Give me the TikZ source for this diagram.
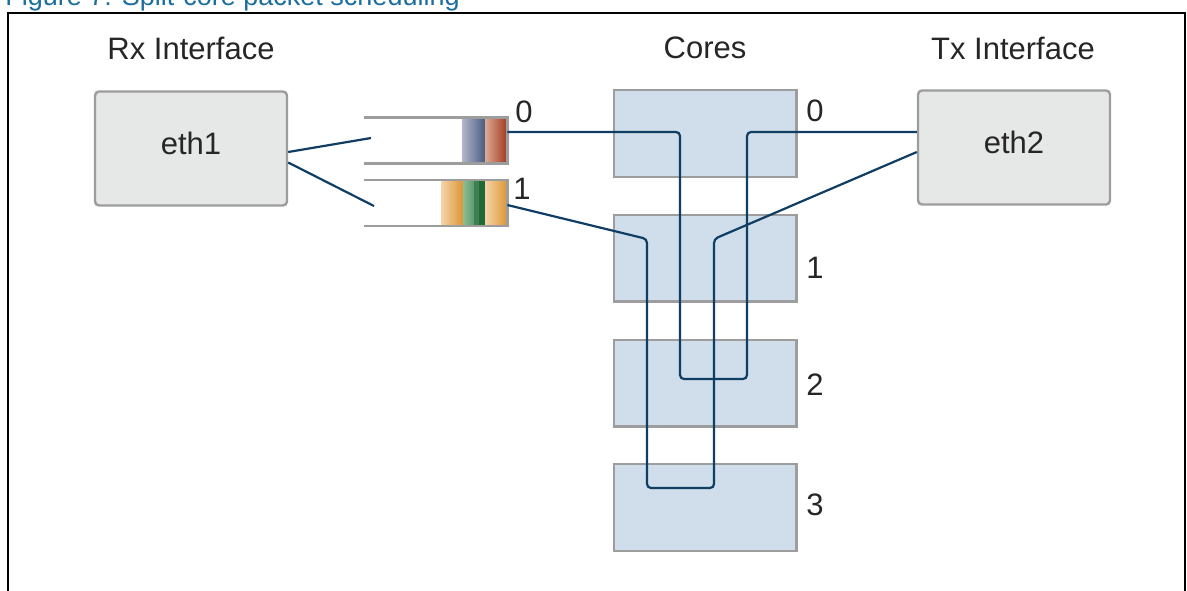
\documentclass[tikz,border=0pt]{standalone}
\usepackage{fontspec}
\setmainfont{Liberation Sans}
\usetikzlibrary{calc}

\definecolor{wireblue}{HTML}{0F3D64}
\definecolor{coreblue}{HTML}{CFDEEA}
\definecolor{ifgray}{HTML}{E6E7E7}
\definecolor{edgegray}{HTML}{9D9D9D}
\definecolor{capblue}{HTML}{1B6E9E}
% packet colours
\definecolor{pktblueA}{HTML}{B3B7C8}
\definecolor{pktblueB}{HTML}{4A5C82}
\definecolor{pktredA}{HTML}{DDAB95}
\definecolor{pktredB}{HTML}{A23A20}
\definecolor{pktorgA}{HTML}{F6D4A8}
\definecolor{pktorgB}{HTML}{DC9635}
\definecolor{pktgrnA}{HTML}{8EBC96}
\definecolor{pktgrnB}{HTML}{5E9A6C}
\definecolor{pktgrnC}{HTML}{3F8050}
\definecolor{pktgrnD}{HTML}{1F6A38}

\begin{document}
\begin{tikzpicture}[x=0.5pt, y=-0.5pt,
    % Define the styles for boxes, labels and wires
    iface/.style={draw=edgegray, line width=1.2pt, fill=ifgray, rounded corners=2pt,
        minimum width=96pt, minimum height=57pt, inner sep=0pt, text depth=5.5pt,
        text=black!85, font=\fontsize{15.5}{18}\selectfont},
    core/.style={draw=edgegray, line width=1.2pt, fill=coreblue,
        minimum width=91.3pt, minimum height=43.3pt, inner sep=0pt},
    queue/.style={minimum width=71.5pt, minimum height=22.5pt, inner sep=0pt},
    qline/.style={draw=edgegray, line width=1.3pt},
    lbl/.style={inner sep=0pt, text=black!85, font=\fontsize{15.5}{18}\selectfont},
    wire/.style={draw=wireblue, line width=1.1pt, rounded corners=2pt}
]
\useasboundingbox (0,0) rectangle (1187,590);
\clip (0,0) rectangle (1187,590);

% Caption and frame
\node[anchor=base west, inner sep=0pt, text=capblue, font=\fontsize{13.5}{16}\selectfont]
    (caption) at (5,5) {Figure 7: Split-core packet scheduling};
\draw[line width=1pt] (7.5,620) -- (7.5,12.5) -- (1185,12.5) -- (1185,620);

% Column headings
\node[lbl] (rxlbl) at (191,48) {Rx Interface};
\node[lbl] (corelbl) at (705,48) {Cores};
\node[lbl] (txlbl) at (1013,48) {Tx Interface};

% Interfaces
\node[iface] (eth1) at (191,148.5) {eth1};
\node[iface] (eth2) at (1014,147.5) {eth2};

% Cores
\node[core] (c0) at (705,133.5) {};
\node[core] (c1) at (705,258) {};
\node[core] (c2) at (705,383) {};
\node[core] (c3) at (705,507.5) {};
\node[lbl] (c0lbl) at (815,111) {0};
\node[lbl] (c1lbl) at (815,268) {1};
\node[lbl] (c2lbl) at (815,385) {2};
\node[lbl] (c3lbl) at (815,505) {3};

% Receive queues
\node[queue] (q0) at (435.5,140.5) {};
\node[queue] (q1) at (435.5,203) {};

% Packets in queue 0
\shade[left color=pktblueA, right color=pktblueB] (462,119) rectangle (485,162);
\shade[left color=pktredA, right color=pktredB] (485,119) rectangle (507,162);

% Packets in queue 1
\shade[left color=pktorgA, right color=pktorgB] (441,181) rectangle (463,225);
\shade[left color=pktgrnA, right color=pktgrnB] (463,181) rectangle (474,225);
\fill[pktgrnC] (474,181) rectangle (479,225);
\fill[pktgrnD] (479,181) rectangle (485,225);
\shade[left color=pktorgA, right color=pktorgB] (485,181) rectangle (507,225);

\draw[qline] (q0.north west) -- (q0.north east) -- (q0.south east) -- (q0.south west);
\draw[qline] (q1.north west) -- (q1.north east) -- (q1.south east) -- (q1.south west);
\node[lbl] (q0lbl) at (524,112) {0};
\node[lbl] (q1lbl) at (522,189) {1};

% Bend points of the wires
\coordinate (in0) at (371,138);
\coordinate (in1) at (374,206);
\coordinate (a0) at (680,132);
\coordinate (a1) at (680,379);
\coordinate (a2) at (747,379);
\coordinate (a3) at (747,132);
\coordinate (b0) at (647,239);
\coordinate (b1) at (647,488);
\coordinate (b2) at (714,488);
\coordinate (b3) at (714,239);

% Wires from eth1 into the queues
\draw[wire] ([yshift=-1.75pt]eth1.east) -- (in0);
\draw[wire] ([yshift=-7pt]eth1.east) -- (in1);

% Wires from the queues through the cores to eth2
\draw[wire] ([yshift=4.25pt]q0.east) -- (a0) -- (a1) -- (a2) -- (a3) -- ([yshift=7.75pt]eth2.west);
\draw[wire] ([yshift=-1pt]q1.east) -- (b0) -- (b1) -- (b2) -- (b3) -- ([yshift=-2.25pt]eth2.west);

\end{tikzpicture}
\end{document}
